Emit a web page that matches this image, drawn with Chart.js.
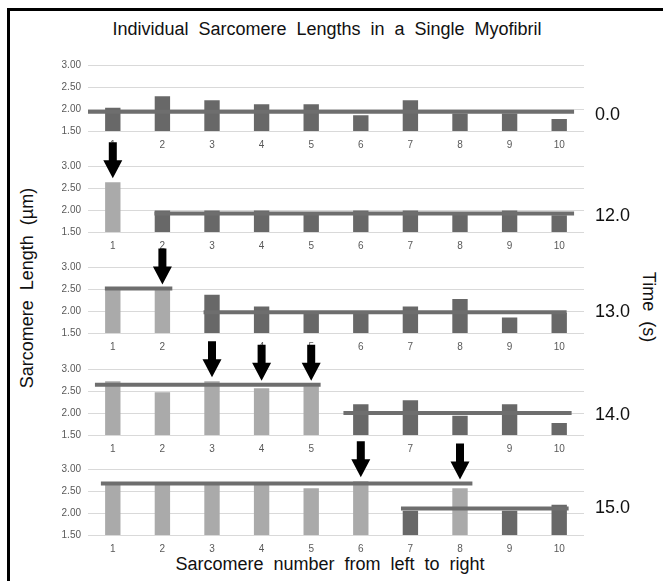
<!DOCTYPE html>
<html>
<head>
<meta charset="utf-8">
<script src="https://cdn.jsdelivr.net/npm/chart.js@4.4.1/dist/chart.umd.min.js"></script>
<style>
  body { margin: 0; background: #fff; }
  #fig { position: relative; width: 663px; height: 581px; overflow: hidden; background: #fff;
         font-family: 'Liberation Sans', Arial, sans-serif; color: #111; }
  #frame { position: absolute; left: 7px; top: 8px; width: 700px; height: 620px;
           border-left: 3px solid #000; border-top: 3px solid #000; }
  .panel { position: absolute; left: 0; }
  .txt { position: absolute; font-size: 18px; white-space: nowrap; word-spacing: 5px;
         transform: translate(-50%, -50%); }
  .time { position: absolute; font-size: 18px; white-space: nowrap; transform: translateY(-50%); }
</style>
</head>
<body>
<div id="fig">
  <div id="frame"></div>
  <div class="txt" style="left:327px; top:29px;">Individual Sarcomere Lengths in a Single Myofibril</div>
  <div class="txt" style="left:27px; top:288px; transform: translate(-50%, -50%) rotate(-90deg);">Sarcomere Length (µm)</div>
  <div class="txt" style="left:330px; top:564px;">Sarcomere number from left to right</div>
  <div class="txt" style="left:648px; top:307px; transform: translate(-50%, -50%) rotate(90deg);">Time (s)</div>
</div>

<script>
// sarcomere numbers along the myofibril
const sarcomeres = ['1', '2', '3', '4', '5', '6', '7', '8', '9', '10'];
const times = ['0.0', '12.0', '13.0', '14.0', '15.0'];

// sarcomere length (um) at each time point
const len0  = [2.03, 2.29, 2.20, 2.11, 2.11, 1.86, 2.20, 1.90, 1.90, 1.77];
const len12 = [2.63, 1.99, 1.99, 1.99, 1.90, 1.99, 1.99, 1.90, 1.99, 1.88];
const len13 = [2.49, 2.50, 2.37, 2.10, 1.94, 1.94, 2.10, 2.27, 1.85, 1.96];
const len14 = [2.72, 2.47, 2.72, 2.56, 2.61, 2.20, 2.29, 1.94, 2.20, 1.77];
const len15 = [2.67, 2.65, 2.70, 2.65, 2.56, 2.72, 2.05, 2.56, 2.05, 2.19];

// L = lengthened (light), D = not yet (dark)
const group0  = ['D', 'D', 'D', 'D', 'D', 'D', 'D', 'D', 'D', 'D'];
const group12 = ['L', 'D', 'D', 'D', 'D', 'D', 'D', 'D', 'D', 'D'];
const group13 = ['L', 'L', 'D', 'D', 'D', 'D', 'D', 'D', 'D', 'D'];
const group14 = ['L', 'L', 'L', 'L', 'L', 'D', 'D', 'D', 'D', 'D'];
const group15 = ['L', 'L', 'L', 'L', 'L', 'L', 'D', 'L', 'D', 'D'];

// mean lines: [from sarcomere, to sarcomere, mean length]
const mean0  = [[0.48, 10.30, 1.94]];
const mean12 = [[1.84, 10.30, 1.92]];
const mean13 = [[0.84, 2.20, 2.51], [2.83, 10.15, 1.97]];
const mean14 = [[0.64, 5.19, 2.64], [5.65, 10.25, 2.00]];
const mean15 = [[0.76, 8.25, 2.67], [6.81, 10.19, 2.10]];

// sarcomeres marked with an arrow (just lengthened)
const arrows0  = [];
const arrows12 = [1];
const arrows13 = [2];
const arrows14 = [3, 4, 5];
const arrows15 = [6, 8];

const yTicks = [1.5, 2.0, 2.5, 3.0];

const panels = [
  { vals: len0,  groups: group0,  means: mean0,  arrows: arrows0,  gridTop: 65,    timeY: 114 },
  { vals: len12, groups: group12, means: mean12, arrows: arrows12, gridTop: 166,   timeY: 215 },
  { vals: len13, groups: group13, means: mean13, arrows: arrows13, gridTop: 266.5, timeY: 311 },
  { vals: len14, groups: group14, means: mean14, arrows: arrows14, gridTop: 369,   timeY: 414 },
  { vals: len15, groups: group15, means: mean15, arrows: arrows15, gridTop: 469,   timeY: 507 }
];

const DARK = '#686868';
const LIGHT = '#aaaaaa';
const LINE = '#6e6e6e';
const PAD_TOP = 36;
const PLOT_H = 66;
const XAXIS_H = 22;

// draws the black down arrows above the chosen sarcomeres
const arrowPlugin = {
  id: 'arrows',
  afterDatasetsDraw(chart, args, opts) {
    const ctx = chart.ctx;
    const x = chart.scales.x, y = chart.scales.y;
    (opts.list || []).forEach(a => {
      const px = x.getPixelForValue(a.cat - 1);
      const tip = y.getPixelForValue(a.top) - 4;
      ctx.save();
      ctx.fillStyle = '#000';
      ctx.beginPath();
      ctx.moveTo(px - 4, tip - 36);
      ctx.lineTo(px + 4, tip - 36);
      ctx.lineTo(px + 4, tip - 18);
      ctx.lineTo(px + 9.5, tip - 18);
      ctx.lineTo(px, tip);
      ctx.lineTo(px - 9.5, tip - 18);
      ctx.lineTo(px - 4, tip - 18);
      ctx.closePath();
      ctx.fill();
      ctx.restore();
    });
  }
};

const fig = document.getElementById('fig');

panels.forEach((p, i) => {
  const cv = document.createElement('canvas');
  cv.className = 'panel';
  cv.width = 663;
  cv.height = PAD_TOP + PLOT_H + XAXIS_H;
  cv.style.top = (p.gridTop - PAD_TOP) + 'px';
  fig.appendChild(cv);

  const lab = document.createElement('div');
  lab.className = 'time';
  lab.style.left = '595px';
  lab.style.top = p.timeY + 'px';
  lab.textContent = times[i];
  fig.appendChild(lab);

  // where each arrow tip sits: just above the bar or mean line under it
  const arrowList = p.arrows.map(c => {
    let top = p.vals[c - 1];
    p.means.forEach(m => { if (c >= m[0] && c <= m[1]) top = Math.max(top, m[2]); });
    return { cat: c, top: top };
  });

  const datasets = [{
    type: 'bar',
    data: p.vals,
    backgroundColor: p.groups.map(g => g === 'L' ? LIGHT : DARK),
    barPercentage: 0.31,
    categoryPercentage: 1,
    grouped: false,
    xAxisID: 'x',
    order: 1
  }];
  p.means.forEach(m => {
    datasets.push({
      type: 'line',
      data: [{ x: m[0], y: m[2] }, { x: m[1], y: m[2] }],
      xAxisID: 'x2',
      borderColor: LINE,
      borderWidth: 4,
      borderCapStyle: 'butt',
      pointRadius: 0,
      fill: false,
      order: 0
    });
  });

  new Chart(cv, {
    type: 'bar',
    data: { labels: sarcomeres, datasets },
    options: {
      responsive: false,
      animation: false,
      layout: { padding: { top: PAD_TOP, left: 0, right: 79, bottom: 0 } },
      plugins: {
        legend: { display: false },
        tooltip: { enabled: false },
        arrows: { list: arrowList }
      },
      scales: {
        x: {
          type: 'category',
          offset: true,
          afterFit: s => { s.height = XAXIS_H; },
          grid: { display: false, drawTicks: false },
          border: { display: false },
          ticks: { color: '#595959', font: { family: 'Liberation Sans', size: 10 }, padding: 8, maxRotation: 0 }
        },
        x2: { type: 'linear', min: 0.5, max: 10.5, offset: false, display: false },
        y: {
          min: 1.5,
          max: 3.0,
          afterBuildTicks: s => { s.ticks = yTicks.map(v => ({ value: v })); },
          afterFit: s => { s.width = 88; },
          grid: { color: '#d9d9d9', drawTicks: false },
          border: { display: false },
          ticks: {
            color: '#595959',
            font: { family: 'Liberation Sans', size: 10 },
            padding: 7,
            callback: v => Number(v).toFixed(2)
          }
        }
      }
    },
    plugins: [arrowPlugin]
  });
});
</script>
</body>
</html>
